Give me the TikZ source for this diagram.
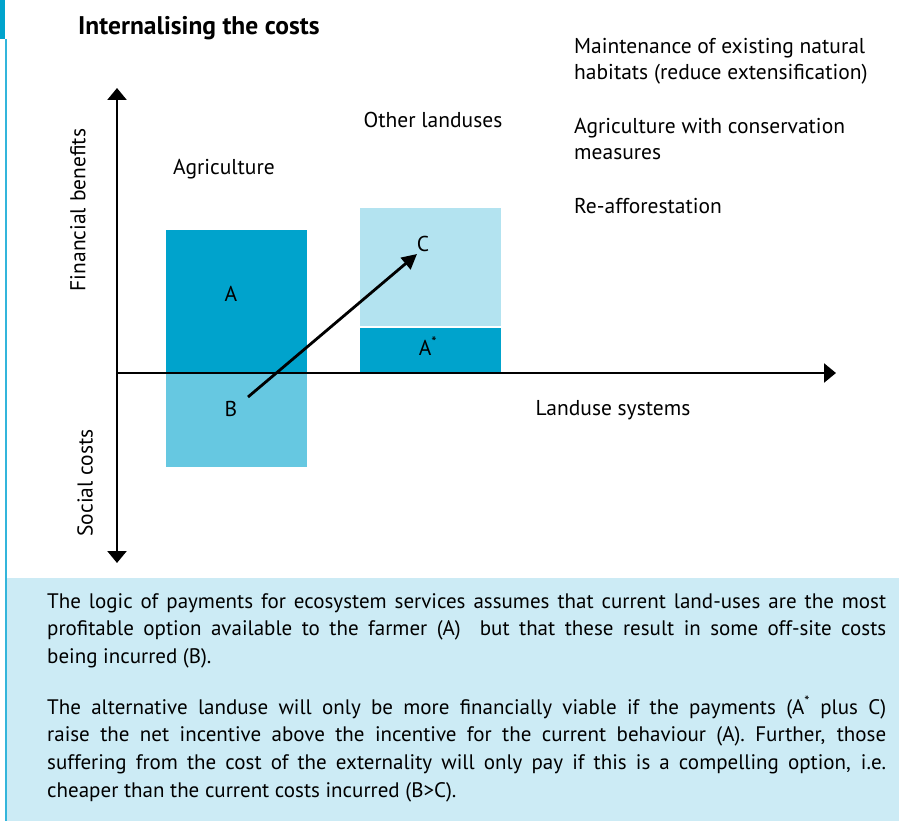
\documentclass[tikz,border=0pt]{standalone}
\usepackage{fontspec}
\setmainfont{PT Sans}
\usetikzlibrary{arrows.meta}
\definecolor{pesdark}{RGB}{0,163,204}
\definecolor{pesmid}{RGB}{102,200,225}
\definecolor{peslight}{RGB}{179,227,240}
\definecolor{pespale}{RGB}{204,235,245}
\definecolor{pesedge}{RGB}{51,181,219}

\begin{document}
\begin{tikzpicture}[x=1pt,y=-1pt]
\tikzset{every node/.style={inner sep=0pt, font=\fontsize{21.5}{26}\selectfont},
  axis/.style={line width=2.5pt, -{Triangle[length=12pt,width=19pt]}},
  shift arrow/.style={line width=2.8pt, -{Triangle[length=15pt,width=15pt]}},
  bodytext/.style={anchor=north west, text width=839pt, align=justify,
    font=\fontsize{21}{27.6}\selectfont}}
\useasboundingbox (0,0) rectangle (899,821);
% frame and caption box
\fill [pesdark] (0,0) rectangle (5,39);
\fill [pesedge] (5,39) rectangle (6.5,821);
\fill [pespale] (6.5,578) rectangle (899,821);
% bars
\fill [pesdark] (166,230) rectangle (307,373);
\fill [pesmid] (166,373) rectangle (307,467);
\fill [peslight] (360,208) rectangle (501,326);
\fill [pesdark] (360,328) rectangle (501,373);
% axes
\coordinate (origin) at (117,373);
\coordinate (ytop) at (117,88);
\coordinate (ybot) at (117,563);
\coordinate (xend) at (836,373);
\draw [axis] (origin) -- (ytop);
\draw [axis] (origin) -- (ybot);
\draw [axis] (origin) -- (xend);
% labels
\node [anchor=base west, font=\fontsize{25.5}{28}\selectfont\bfseries] (title) at (78,35) {Internalising the costs};
\node [anchor=base west, align=left] (opt1) at (574,80) {Maintenance of existing natural\\habitats (reduce extensification)};
\node [anchor=base west, align=left] (opt2) at (574,160) {Agriculture with conservation\\measures};
\node [anchor=base west] (opt3) at (574,214) {Re-afforestation};
\node [anchor=base] (agri) at (224,175) {Agriculture};
\node [anchor=base] (other) at (433,128) {Other landuses};
\node [anchor=base] (systems) at (613,415) {Landuse systems};
\node [rotate=90] (benefits) at (78,210) {Financial benefits};
\node [rotate=90] (social) at (85,483) {Social costs};
\node [anchor=base] (lblA) at (231,301) {A};
\node [anchor=base] (lblB) at (231,416) {B};
\node [anchor=base] (lblC) at (423,251) {C};
\node [anchor=base] (lblAstar) at (428,355) {A\textsuperscript{*}};
% shift from B to C
\coordinate (bstart) at (248,397);
\coordinate (cend) at (417,254);
\draw [shift arrow] (bstart) -- (cend);
% caption
\node [bodytext] (para1) at (47,593) {The logic of payments for ecosystem services assumes that current land-uses are the most\linebreak profitable option available to the farmer (A)\ \ but that these result in some off-site costs\linebreak being incurred (B).};
\node [bodytext] (para2) at (47,696) {The alternative landuse will only be more financially viable if the payments (A\textsuperscript{*} plus C)\linebreak raise the net incentive above the incentive for the current behaviour (A). Further, those\linebreak suffering from the cost of the externality will only pay if this is a compelling option, i.e.\linebreak cheaper than the current costs incurred (B>C).};
\end{tikzpicture}
\end{document}
